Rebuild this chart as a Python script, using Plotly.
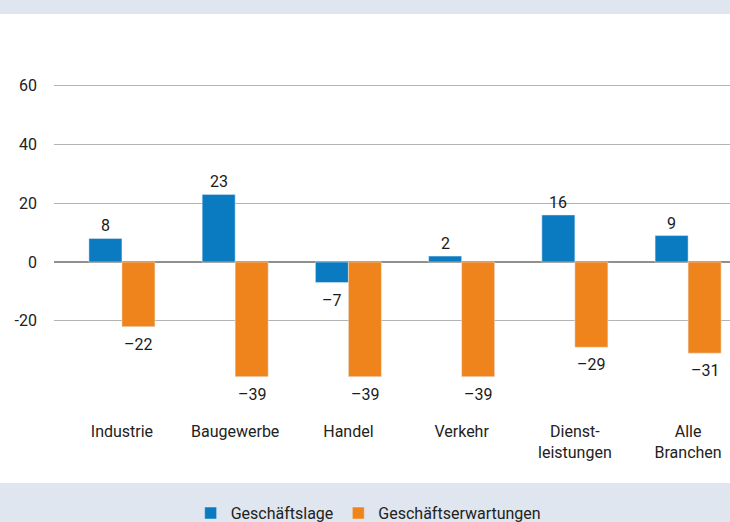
import plotly.graph_objects as go

categories = ["Industrie", "Baugewerbe", "Handel", "Verkehr", "Dienst-<br>leistungen", "Alle<br>Branchen"]
geschaeftslage = [8, 23, -7, 2, 16, 9]
geschaeftserwartungen = [-22, -39, -39, -39, -29, -31]
y_ticks = [-20, 0, 20, 40, 60]

BLUE = "#0b7bc1"
ORANGE = "#ef841c"
BAND = "#dfe6ef"
NARROW = "Liberation Sans Narrow, Roboto, sans-serif"
REG = "Roboto, Liberation Sans, sans-serif"

x = list(range(len(categories)))
BARGAP = 0.417
OFF = (1 - BARGAP) / 4  # centre offset of each bar inside its group

fig = go.Figure()
fig.add_trace(go.Bar(x=x, y=geschaeftslage, name="Geschäftslage", marker_color=BLUE))
fig.add_trace(go.Bar(x=x, y=geschaeftserwartungen, name="Geschäftserwartungen", marker_color=ORANGE))

def fmt(v):
    return str(v).replace("-", "–")

for vals, off in ((geschaeftslage, -OFF), (geschaeftserwartungen, OFF)):
    for xi, v in zip(x, vals):
        fig.add_annotation(
            x=xi + off, y=v, xref="x", yref="y", text=fmt(v), showarrow=False,
            yanchor="bottom" if v >= 0 else "top", yshift=1 if v >= 0 else -6,
            font=dict(size=16, color="#1a1a1a", family=REG),
        )

plot_h = 522 - 20 - 110
def py(pix):
    return (522 - 110 - pix) / plot_h

fig.update_layout(
    width=730, height=522,
    margin=dict(l=54, r=0, t=20, b=110),
    paper_bgcolor="white", plot_bgcolor="white",
    barmode="group", bargap=BARGAP, bargroupgap=0,
    showlegend=True,
    legend=dict(orientation="h", x=0.505, xanchor="center", xref="container",
                y=0.017, yanchor="middle", yref="container",
                font=dict(family=NARROW, size=16, color="#222"),
                bgcolor="rgba(0,0,0,0)", tracegroupgap=0, itemwidth=30),
)
fig.add_shape(type="rect", xref="paper", yref="paper", x0=-54 / 676, x1=1.01,
              y0=py(14), y1=py(-2), fillcolor=BAND, line_width=0, layer="below")
fig.add_shape(type="rect", xref="paper", yref="paper", x0=-54 / 676, x1=1.01,
              y0=py(524), y1=py(483), fillcolor=BAND, line_width=0, layer="below")

fig.update_xaxes(
    range=[-0.6, 5.37], tickvals=x, ticktext=categories,
    showgrid=False, zeroline=False, showline=False, ticks="",
    tickfont=dict(family=NARROW, size=16, color="#222"),
    ticklabelstandoff=8,
)
fig.update_yaxes(
    range=[(262 - 412) / 2.94, (262 - 20) / 2.94],
    tickvals=y_ticks, ticktext=[str(v) for v in y_ticks],
    showgrid=True, gridcolor="#b4b4b4", gridwidth=1,
    zeroline=True, zerolinecolor="#909090", zerolinewidth=1.5,
    showline=False, ticks="",
    tickfont=dict(family=REG, size=16, color="#222"),
    ticklabelstandoff=16,
)

fig.write_html("out.html", config={"displayModeBar": False},
               post_script="document.body.style.margin='0';document.body.style.overflow='hidden';")
